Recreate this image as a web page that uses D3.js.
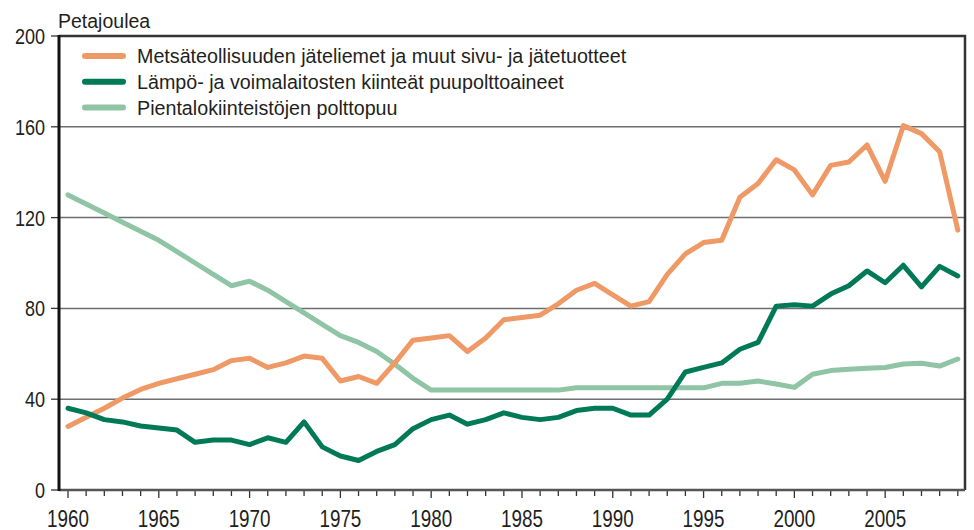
<!DOCTYPE html>
<html>
<head>
<meta charset="utf-8">
<script src="https://cdn.jsdelivr.net/npm/d3@7"></script>
<style>
  body { margin: 0; background: #fff; }
  svg text { font-family: "Liberation Sans", Arial, sans-serif; fill: #231f20; }
</style>
</head>
<body>
<div id="chart"></div>
<script>
// years 1960-2009
var years = d3.range(1960, 2010);

var seriesNames = [
    "Metsäteollisuuden jäteliemet ja muut sivu- ja jätetuotteet",
    "Lämpö- ja voimalaitosten kiinteät puupolttoaineet",
    "Pientalokiinteistöjen polttopuu"
];

var wasteLiquor = [28, 32, 36, 40.5, 44.3, 47, 49, 51, 53, 57,
    58, 54, 56, 59, 58, 48, 50, 47, 56, 66,
    67, 68, 61, 67, 75, 76, 77, 82, 88, 91,
    86, 81, 83, 95, 104, 109, 110, 129, 135, 145.5,
    141, 130, 143, 144.5, 152, 136, 160.5, 157, 149, 114.5];

var plantWood = [36, 34, 31, 30, 28.2, 27.3, 26.4, 21, 22, 22,
    20, 23, 21, 30, 19, 15, 13, 17, 20, 27,
    31, 33, 29, 31, 34, 32, 31, 32, 35, 36,
    36, 33, 33, 40, 52, 54, 56, 62, 65, 81,
    81.6, 81, 86.3, 90, 96.5, 91.3, 99, 89.5, 98.5, 94.3];

var firewood = [130, 126, 122, 118, 114, 110, 105, 100, 95, 90,
    92, 88, 83, 78, 73, 68, 65, 61, 55.4, 49.2,
    44, 44, 44, 44, 44, 44, 44, 44, 45, 45,
    45, 45, 45, 45, 45, 45, 47, 47, 48, 46.7,
    45.2, 51, 52.6, 53.2, 53.6, 54, 55.5, 55.8, 54.6, 57.7];

var yTicks = [0, 40, 80, 120, 160, 200];
var colors = ["#ee9966", "#007a56", "#8fc4a5"];

var width = 974, height = 530;
var margin = { top: 36, right: 9, bottom: 40, left: 59 };

var svg = d3.select("#chart")
    .append("svg")
    .attr("width", width)
    .attr("height", height);

var x = d3.scaleLinear()
    .domain([1960, 2009])
    .range([68, 957.8]);

var y = d3.scaleLinear()
    .domain([0, 200])
    .range([490, 36]);

// text helper, sx squeezes the digits like the original's condensed face
function label(g, tx, ty, str, size, anchor, sx) {
    return g.append("text")
        .attr("transform", "translate(" + tx + "," + ty + ") scale(" + (sx || 1) + ",1)")
        .attr("text-anchor", anchor || "start")
        .style("font-size", size + "px")
        .text(str);
}

// gridlines
svg.append("g")
    .selectAll("line")
    .data([40, 80, 120, 160])
    .enter().append("line")
    .attr("x1", margin.left)
    .attr("x2", 965)
    .attr("y1", function(d) { return y(d); })
    .attr("y2", function(d) { return y(d); })
    .attr("stroke", "#6d6e71")
    .attr("stroke-width", 1.5);

// top and right frame
svg.append("path")
    .attr("d", "M" + margin.left + "," + y(200) + "H965V" + y(0))
    .attr("fill", "none")
    .attr("stroke", "#333")
    .attr("stroke-width", 2.5);

// x axis: minor ticks each year, longer at every fifth
var xAxis = svg.append("g")
    .attr("transform", "translate(0," + y(0) + ")");

xAxis.selectAll("line.tick")
    .data(years)
    .enter().append("line")
    .attr("x1", function(d) { return x(d); })
    .attr("x2", function(d) { return x(d); })
    .attr("y1", 0)
    .attr("y2", function(d) { return d % 5 == 0 ? 8 : 6; })
    .attr("stroke", "#333")
    .attr("stroke-width", 1.3);

years.filter(function(d) { return d % 5 == 0; }).forEach(function(d) {
    label(xAxis, x(d), 37, d, 23, "middle", 0.82);
});

xAxis.append("line")
    .attr("x1", margin.left)
    .attr("x2", 965)
    .attr("stroke", "#555")
    .attr("stroke-width", 2.5);

// y axis
var yAxis = svg.append("g");

yAxis.selectAll("line")
    .data(yTicks)
    .enter().append("line")
    .attr("x1", 51)
    .attr("x2", margin.left)
    .attr("y1", function(d) { return y(d); })
    .attr("y2", function(d) { return y(d); })
    .attr("stroke", "#333")
    .attr("stroke-width", 1.3);

yTicks.forEach(function(d) {
    label(yAxis, 45, y(d) + 8, d, 22, "end", 0.82);
});

yAxis.append("line")
    .attr("x1", margin.left)
    .attr("x2", margin.left)
    .attr("y1", y(200) - 1)
    .attr("y2", y(0) + 1)
    .attr("stroke", "#111")
    .attr("stroke-width", 3);

label(svg, 58, 28, "Petajoulea", 19.5);

// lines
var line = d3.line()
    .x(function(d, i) { return x(years[i]); })
    .y(function(d) { return y(d); });

[firewood, wasteLiquor, plantWood].forEach(function(s) {
    var idx = s === wasteLiquor ? 0 : s === plantWood ? 1 : 2;
    svg.append("path")
        .datum(s)
        .attr("d", line)
        .attr("fill", "none")
        .attr("stroke", colors[idx])
        .attr("stroke-width", 5)
        .attr("stroke-linejoin", "round")
        .attr("stroke-linecap", "round");
});

// legend
var legend = svg.append("g");
seriesNames.forEach(function(name, i) {
    var ly = 56 + i * 25.8;
    legend.append("line")
        .attr("x1", 85)
        .attr("x2", 123)
        .attr("y1", ly)
        .attr("y2", ly)
        .attr("stroke", colors[i])
        .attr("stroke-width", 6)
        .attr("stroke-linecap", "round");
    label(legend, 137, ly + 7, name, 19.7);
});
</script>
</body>
</html>
